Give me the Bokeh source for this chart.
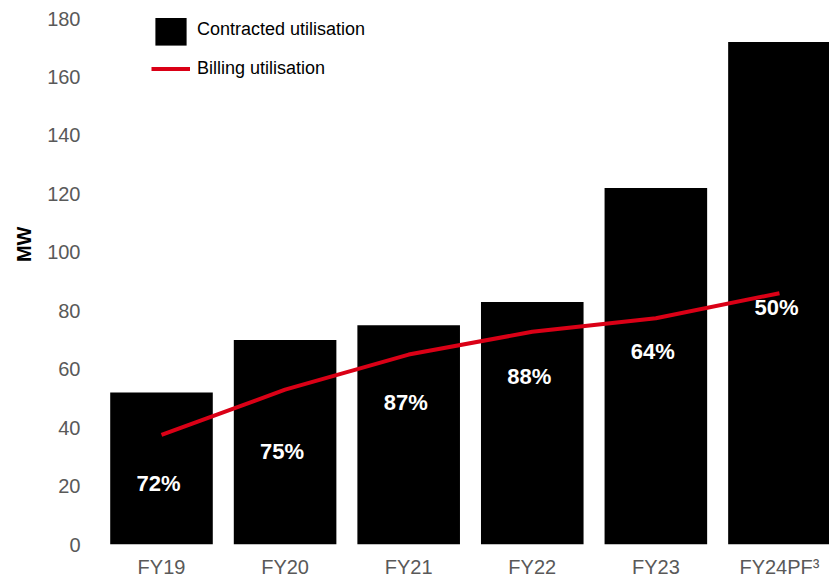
from bokeh.plotting import figure
from bokeh.models import Range1d, FixedTicker, Legend, LegendItem, ColumnDataSource, LabelSet, Title
from bokeh.core.properties import value
from bokeh.embed import file_html
from bokeh.resources import INLINE

categories = ["FY19", "FY20", "FY21", "FY22", "FY23", "FY24PF³"]
contracted = [52, 70, 75, 83, 122, 172]
billing = [37.5, 53, 65, 72.8, 77.4, 86]
pct_labels = ["72%", "75%", "87%", "88%", "64%", "50%"]
label_y = [21.0, 31.8, 48.7, 57.4, 66.1, 81.1]
y_ticks = [0, 20, 40, 60, 80, 100, 120, 140, 160, 180]

FONT = "Liberation Sans"
idx = list(range(len(categories)))

src = ColumnDataSource(dict(x=idx, top=contracted, bill=billing, lab=pct_labels, ly=label_y))

p = figure(width=829, height=580, output_backend="svg", toolbar_location=None,
           x_range=Range1d(-0.534, 5.405), y_range=Range1d(0, 180),
           min_border_left=95, min_border_right=0, min_border_top=18, min_border_bottom=35)
p.outline_line_color = None
p.xgrid.visible = False
p.ygrid.visible = False
p.background_fill_color = "white"

bars = p.vbar(x="x", top="top", width=0.83, bottom=0, source=src, fill_color="black", line_color=None)
line = p.line(x="x", y="bill", source=src, line_color="#DA0016", line_width=4)

labels = LabelSet(x="x", y="ly", text="lab", source=src, text_color="white",
                  text_font=value(FONT), text_font_style="bold", text_font_size="22px",
                  text_align="center", text_baseline="middle", x_offset=-3)
p.add_layout(labels)

# axes
p.xaxis.ticker = FixedTicker(ticks=idx)
p.xaxis.major_label_overrides = {i: c for i, c in zip(idx, categories)}
p.yaxis.ticker = FixedTicker(ticks=y_ticks)
for ax in (p.xaxis[0], p.yaxis[0]):
    ax.axis_line_color = None
    ax.major_tick_line_color = None
    ax.minor_tick_line_color = None
    ax.major_tick_out = 0
    ax.major_tick_in = 0
    ax.minor_tick_out = 0
    ax.minor_tick_in = 0
    ax.major_label_text_font = FONT
    ax.major_label_text_font_size = "20px"
    ax.major_label_text_color = "#595959"
p.xaxis.major_label_standoff = 11
p.yaxis.major_label_standoff = 15

# y-axis title, placed above the frame's centre as in the reference
p.add_layout(Title(text="MW", align="right", offset=208, standoff=20,
                   text_font=FONT, text_font_style="bold", text_font_size="20px",
                   text_color="black"), "left")

legend = Legend(items=[LegendItem(label="Contracted utilisation", renderers=[bars]),
                       LegendItem(label="Billing utilisation", renderers=[line])],
                location=(56, 456), orientation="vertical",
                glyph_width=39, glyph_height=39, label_height=39, label_standoff=7,
                spacing=-6, padding=0, margin=0, border_line_color=None,
                background_fill_alpha=0, label_text_font=FONT,
                label_text_font_size="18px", label_text_color="black")
p.add_layout(legend)

open("out.html", "w").write(file_html(p, INLINE))
